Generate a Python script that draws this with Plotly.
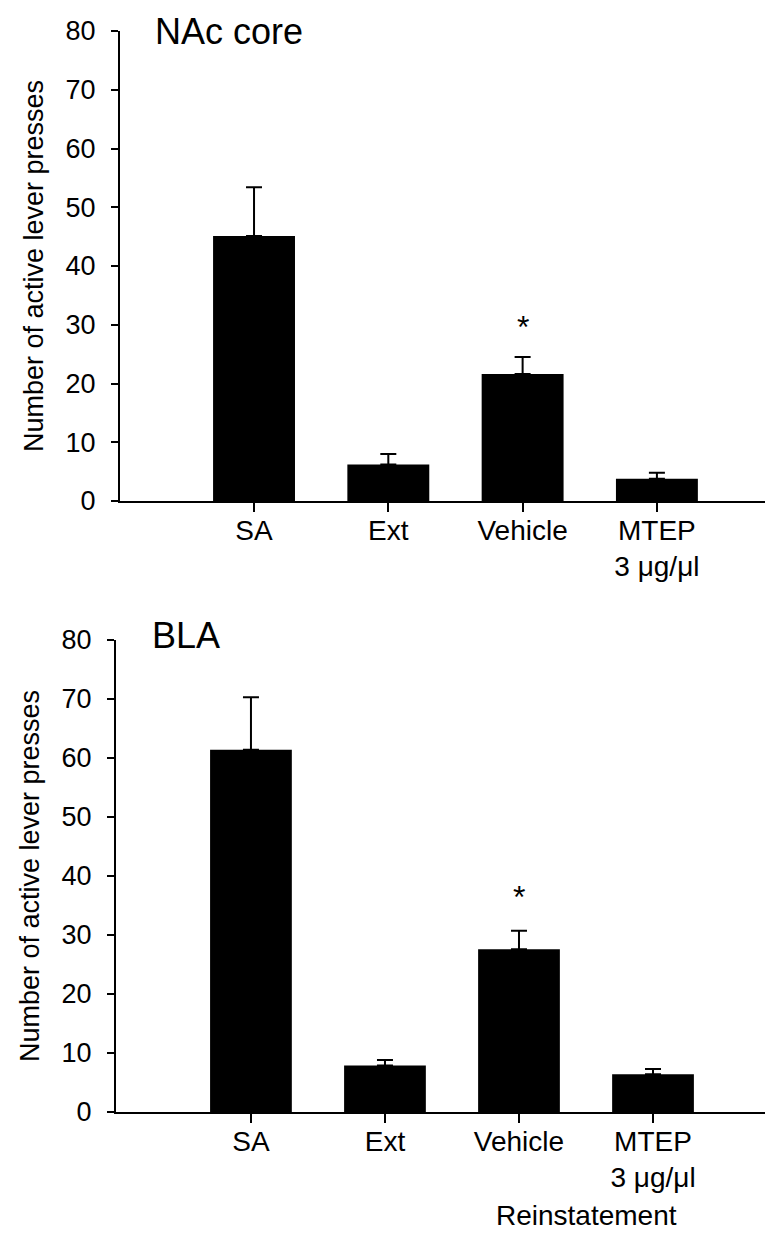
import plotly.graph_objects as go

categories = ["SA", "Ext", "Vehicle", "MTEP<br>3 μg/μl"]

nac_means = [45.1, 6.2, 21.6, 3.8]
nac_sem = [8.3, 1.8, 2.9, 1.0]

bla_means = [61.4, 7.9, 27.6, 6.4]
bla_sem = [8.9, 0.9, 3.1, 0.9]

y_ticks = [0, 10, 20, 30, 40, 50, 60, 70, 80]
sig_index = 2  # Vehicle marked with *

FONT = "Liberation Sans, Arial, sans-serif"
W, H = 773, 1233
ML, MT, MB = 108, 23, 129
PW = W - ML
PH = H - MT - MB

def px_to_paper_y(py):
    return (H - MB - py) / PH

fig = go.Figure()

x_idx = list(range(len(categories)))

fig.add_trace(go.Bar(
    x=x_idx, y=nac_means, width=0.61,
    marker=dict(color="black", line=dict(color="black", width=0)),
    error_y=dict(type="data", array=nac_sem, arrayminus=[0] * 4, symmetric=False,
                 color="black", thickness=2, width=8),
    xaxis="x", yaxis="y", showlegend=False,
))
fig.add_trace(go.Bar(
    x=x_idx, y=bla_means, width=0.61,
    marker=dict(color="black", line=dict(color="black", width=0)),
    error_y=dict(type="data", array=bla_sem, arrayminus=[0] * 4, symmetric=False,
                 color="black", thickness=2, width=8),
    xaxis="x2", yaxis="y2", showlegend=False,
))

xcommon = dict(
    tickmode="array", tickvals=x_idx, ticktext=categories,
    showline=True, linecolor="black", linewidth=2,
    ticks="outside", ticklen=9, tickwidth=2, tickcolor="black",
    showgrid=False, zeroline=False,
    tickfont=dict(family=FONT, size=28, color="black"),
    ticklabelstandoff=-6,
)
ycommon = dict(
    range=[0, 80], tickvals=y_ticks,
    showline=True, linecolor="black", linewidth=2,
    ticks="outside", ticklen=7, tickwidth=2, tickcolor="black",
    showgrid=False, zeroline=False,
    tickfont=dict(family=FONT, size=27, color="black"),
    ticklabelstandoff=10,
    title=dict(text="Number of active lever presses",
               font=dict(family=FONT, size=27, color="black"), standoff=14),
)

top0 = px_to_paper_y(493)
top1 = px_to_paper_y(23)
bot0 = px_to_paper_y(1104)
bot1 = px_to_paper_y(632)

fig.update_layout(
    width=W, height=H,
    margin=dict(l=ML, r=0, t=MT, b=MB),
    paper_bgcolor="white", plot_bgcolor="white",
    bargap=0.39,
    xaxis=dict(domain=[4 / PW, 1], anchor="y", range=[-0.998, 3.924], **xcommon),
    yaxis=dict(domain=[top0, top1], anchor="x", **ycommon),
    xaxis2=dict(domain=[0, 1], anchor="y2", range=[-1.007, 3.955], **xcommon),
    yaxis2=dict(domain=[bot0, bot1], anchor="x2", **ycommon),
)

annots = []
annots.append(dict(text="NAc core", xref="paper", yref="paper",
                   x=(145 - ML) / PW, y=px_to_paper_y(1), xanchor="left", yanchor="top",
                   showarrow=False, font=dict(family=FONT, size=36, color="black")))
annots.append(dict(text="BLA", xref="paper", yref="paper",
                   x=(142 - ML) / PW, y=px_to_paper_y(627), xanchor="left", yanchor="middle",
                   showarrow=False, font=dict(family=FONT, size=36, color="black")))
annots.append(dict(text="*", xref="x", yref="y",
                   x=sig_index, y=nac_means[sig_index] + nac_sem[sig_index],
                   xanchor="center", yanchor="bottom", yshift=10,
                   showarrow=False, font=dict(family=FONT, size=32, color="black")))
annots.append(dict(text="*", xref="x2", yref="y2",
                   x=sig_index, y=bla_means[sig_index] + bla_sem[sig_index],
                   xanchor="center", yanchor="bottom", yshift=14,
                   showarrow=False, font=dict(family=FONT, size=32, color="black")))
annots.append(dict(text="Reinstatement", xref="x2", yref="paper",
                   x=2.5, y=px_to_paper_y(1207), xanchor="center", yanchor="middle",
                   showarrow=False, font=dict(family=FONT, size=28, color="black")))
fig.update_layout(annotations=annots)

fig.write_html("out.html")
